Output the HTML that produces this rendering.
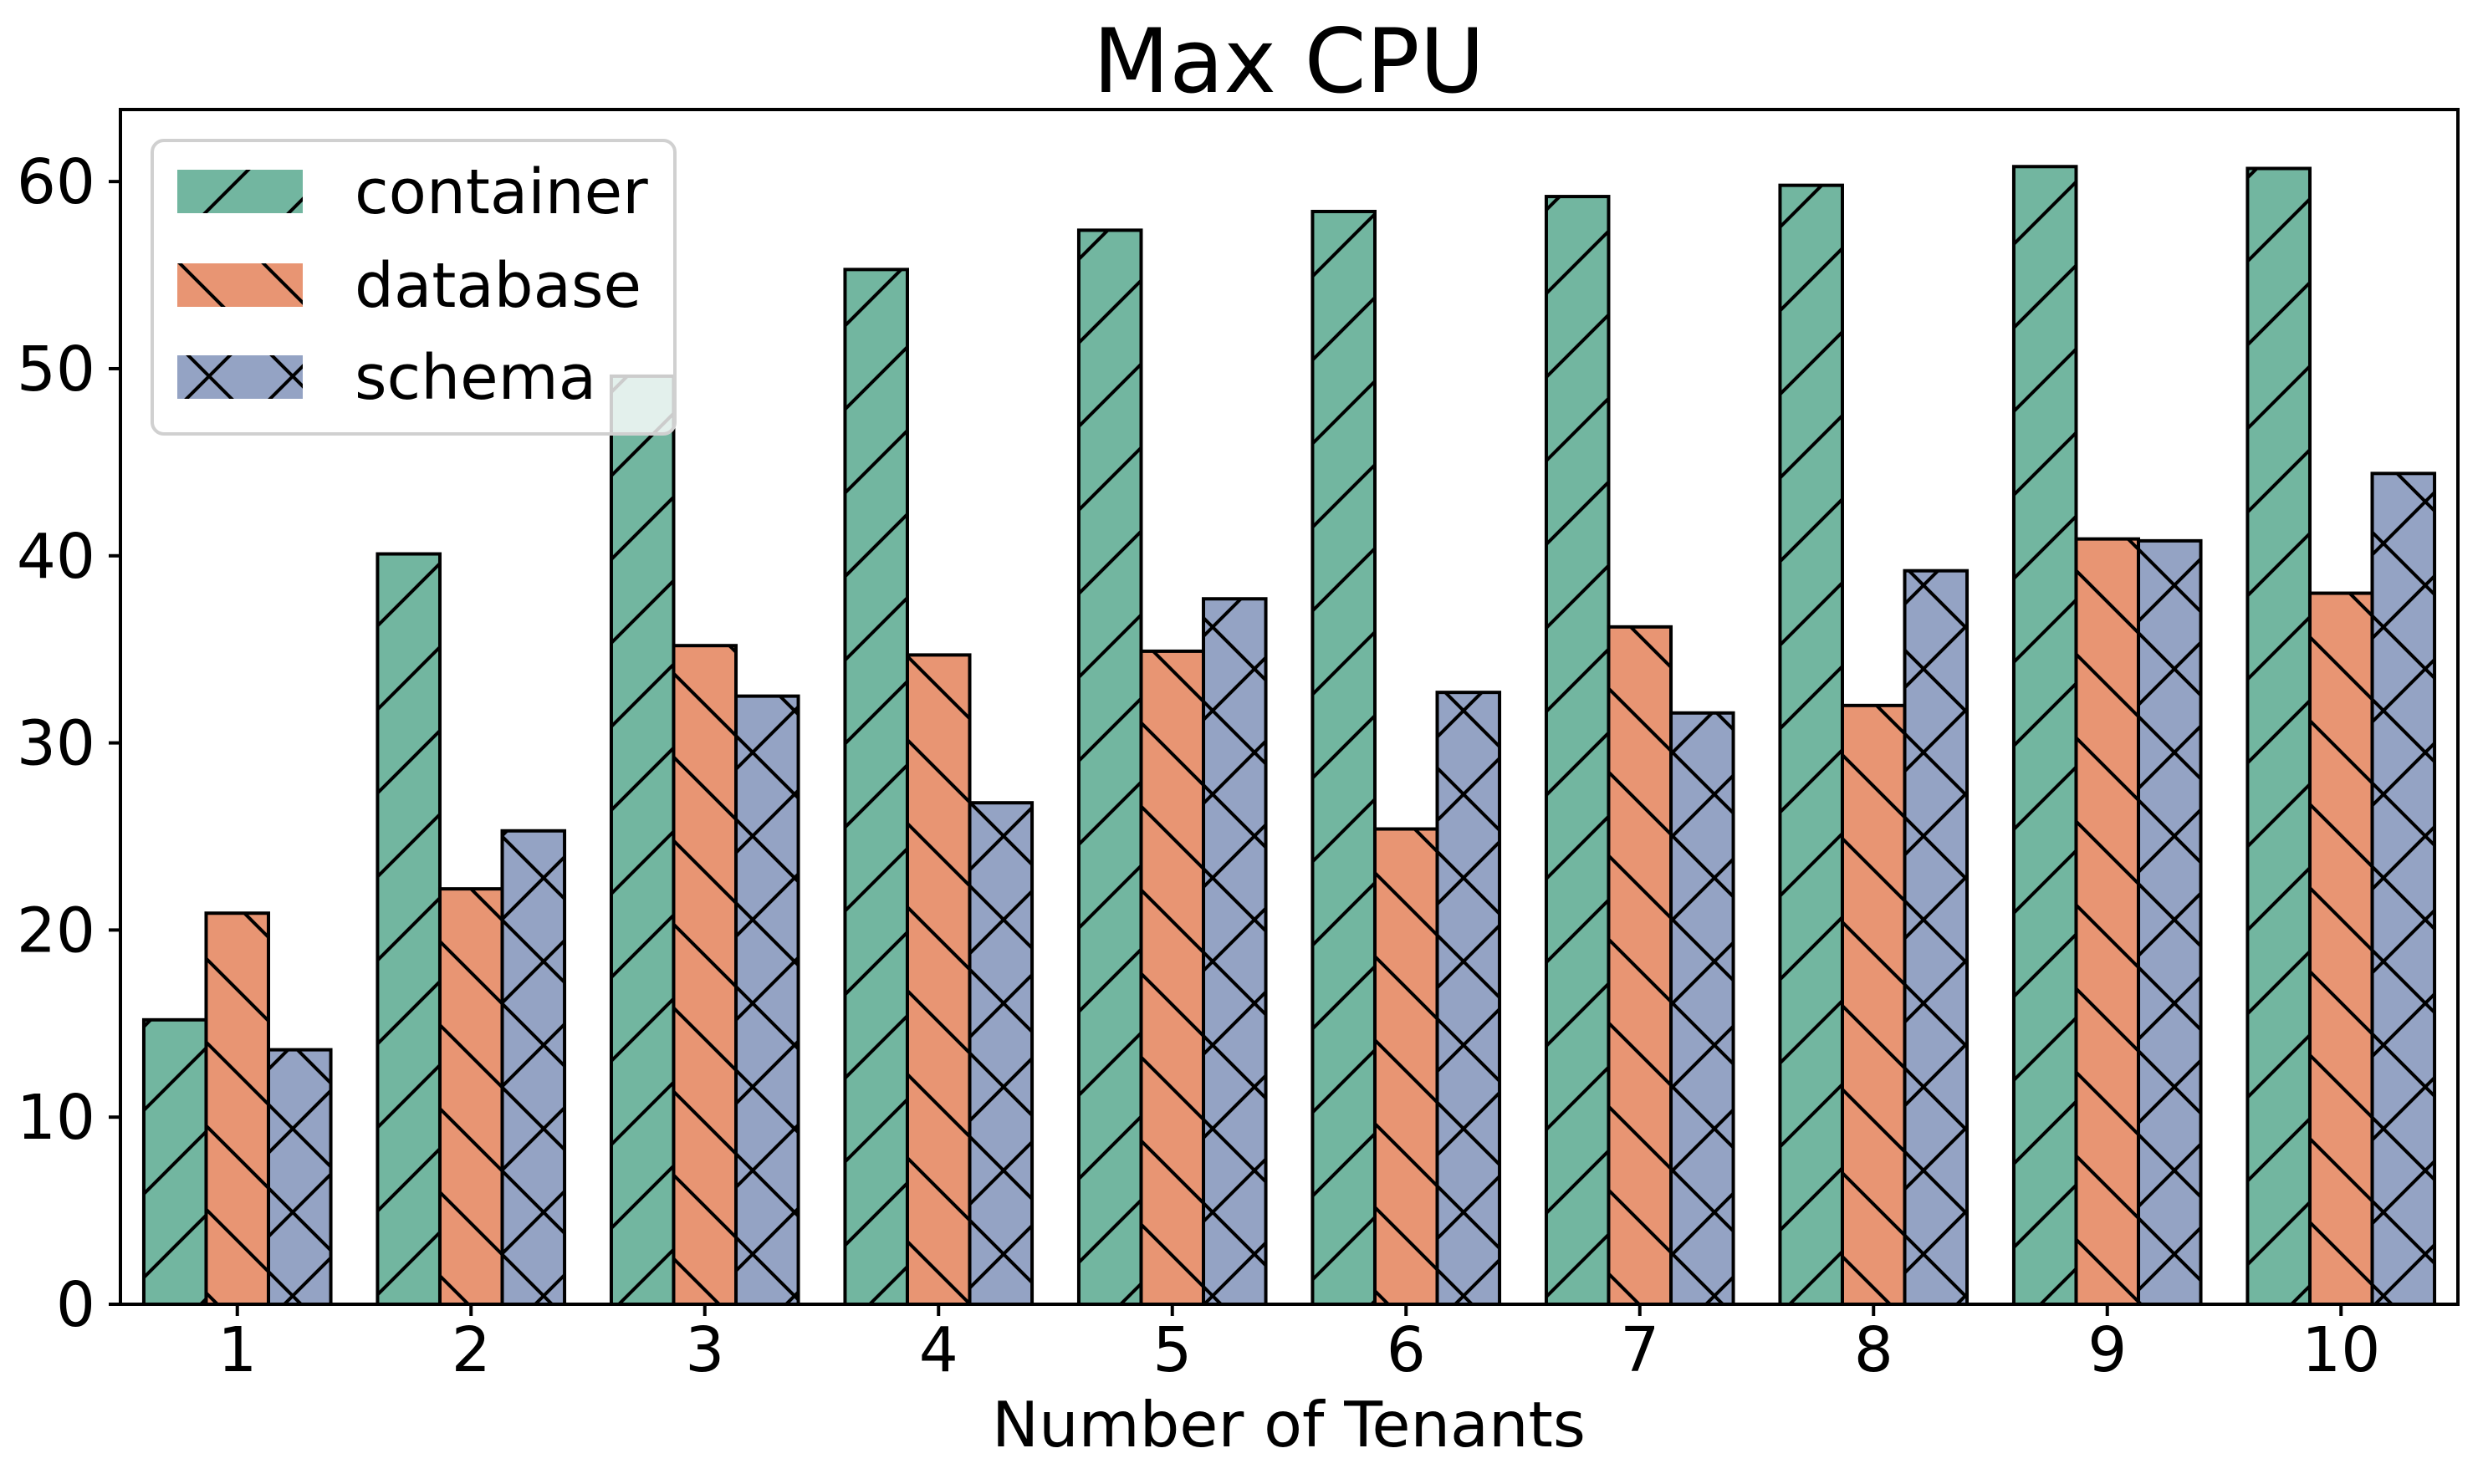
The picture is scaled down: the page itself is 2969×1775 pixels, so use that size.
<!DOCTYPE html>
<html><head><meta charset="utf-8"><style>
html,body{margin:0;padding:0;background:#fff}
svg{display:block;font-family:"DejaVu Sans","Liberation Sans",sans-serif}
</style></head><body>
<svg id="chart" width="2969" height="1775" viewBox="0 0 2969 1775" xmlns="http://www.w3.org/2000/svg">
<defs>
<pattern id="h-fwd" patternUnits="userSpaceOnUse" width="100" height="100">
<path d="M-50,50 L50,-50 M0,100 L100,0 M50,150 L150,50" stroke="#000" stroke-width="4"/>
</pattern>
<pattern id="h-back" patternUnits="userSpaceOnUse" width="100" height="100">
<path d="M-50,50 L50,150 M0,0 L100,100 M50,-50 L150,50" stroke="#000" stroke-width="4"/>
</pattern>
<pattern id="h-x" patternUnits="userSpaceOnUse" width="100" height="100">
<path d="M-50,50 L50,-50 M0,100 L100,0 M50,150 L150,50 M-50,50 L50,150 M0,0 L100,100 M50,-50 L150,50" stroke="#000" stroke-width="4"/>
</pattern>
</defs>
<text x="1541" y="110" font-size="106" text-anchor="middle">Max CPU</text>
<text x="1541" y="1730" font-size="75" text-anchor="middle">Number of Tenants</text>
<g id="bars"></g>
<g id="axes"></g>
<g id="legend"></g>
</svg>
<script>
const categories = [1,2,3,4,5,6,7,8,9,10];
const containerValues = [15.2,40.1,49.6,55.3,57.4,58.4,59.2,59.8,60.8,60.7];
const databaseValues = [20.9,22.2,35.2,34.7,34.9,25.4,36.2,32.0,40.9,38.0];
const schemaValues = [13.6,25.3,32.5,26.8,37.7,32.7,31.6,39.2,40.8,44.4];
const yTicks = [0,10,20,30,40,50,60];
const seriesNames = ['container','database','schema'];

const NS='http://www.w3.org/2000/svg';
const L=144,R=2939,T=131,B=1560;
const xMin=0.5,xMax=10.5,yMin=0,yMax=63.85;
const xs=v=>L+(v-xMin)/(xMax-xMin)*(R-L);
const ys=v=>B-(v-yMin)/(yMax-yMin)*(B-T);
const fills=['#72b6a0','#e89573','#94a3c4'];
const hatches=['url(#h-fwd)','url(#h-back)','url(#h-x)'];
const series=[containerValues,databaseValues,schemaValues];
const bw=0.8/3;
function mk(tag,attrs,parent){const e=document.createElementNS(NS,tag);for(const k in attrs)e.setAttribute(k,attrs[k]);parent.appendChild(e);return e;}
const gb=document.getElementById('bars');
series.forEach((vals,si)=>{
  categories.forEach((c,i)=>{
    const x0=xs(c-0.4+si*bw),x1=xs(c-0.4+(si+1)*bw);
    const y0=ys(vals[i]),y1=ys(0);
    const g=mk('g',{},gb);
    
    
    mk('rect',{x:x0,y:y0,width:x1-x0,height:y1-y0,fill:fills[si]},g);
    mk('rect',{x:x0,y:y0,width:x1-x0,height:y1-y0,fill:hatches[si],stroke:'#000','stroke-width':4},g);
  });
});
const ga=document.getElementById('axes');
const fr=mk('rect',{x:L,y:T,width:R-L,height:B-T,fill:'none',stroke:'#000','stroke-width':4},ga);


yTicks.forEach(t=>{
  const y=ys(t);
  mk('line',{x1:L-14,x2:L,y1:y,y2:y,stroke:'#000','stroke-width':4},ga);
  const tx=mk('text',{x:L-30,y:y+26,'font-size':74,'text-anchor':'end'},ga);
  tx.textContent=t;
  
  
});
categories.forEach(c=>{
  const x=xs(c);
  mk('line',{x1:x,x2:x,y1:B,y2:B+14,stroke:'#000','stroke-width':4},ga);
  const tx=mk('text',{x:x,y:B+80,'font-size':74,'text-anchor':'middle'},ga);
  tx.textContent=c;
  
  
});
const gl=document.getElementById('legend');
mk('rect',{x:182,y:168,width:625,height:351,rx:14,fill:'#fff','fill-opacity':0.8,stroke:'#d0d0d0','stroke-width':4},gl);
const rowsY=[229,341,451];
seriesNames.forEach((n,si)=>{
  const g=mk('g',{},gl);
  
  
  mk('rect',{x:212,y:rowsY[si]-26,width:150,height:52,fill:fills[si]},g);
  mk('rect',{x:212,y:rowsY[si]-26,width:150,height:52,fill:hatches[si]},g);
  const tx=mk('text',{x:424,y:rowsY[si]+26,'font-size':74},g);
  tx.textContent=n;
});
</script>
</body></html>
